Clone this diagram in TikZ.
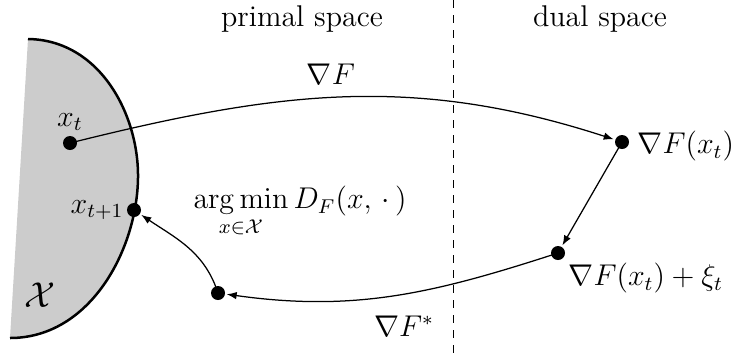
\documentclass[tikz,border=0pt]{standalone}
\usepackage{amsmath,amssymb}
\usetikzlibrary{arrows.meta}
\begin{document}
\begin{tikzpicture}[x=0.4pt,y=-0.4pt,
  pt/.style={circle,fill=black,inner sep=0pt,minimum size=5.6pt},
  conn/.style={line width=0.5pt,-{Latex[length=4pt,width=3pt]},shorten >=0.5pt},
  lbl/.style={inner sep=0pt}]
\useasboundingbox (0,0) rectangle (738,354);
% convex set
\fill[black!20] (28,39) .. controls (100,40) and (139,115) .. (138,178)
  .. controls (137,250) and (90,338) .. (10,338) -- cycle;
\draw[line width=1pt] (28,39) .. controls (100,40) and (139,115) .. (138,178)
  .. controls (137,250) and (90,338) .. (10,338);
\node[lbl] at (40,295) {\Large$\mathcal{X}$};
% dashed separator
\draw[dashed,line width=0.4pt] (453,0) -- (453,354);
\node[lbl] at (302,19) {\large primal space};
\node[lbl] at (600,19) {\large dual space};
% points
\node[pt] (xt) at (70,143) {};
\node[pt] (xt1) at (134,210) {};
\node[pt] (gx) at (622,142) {};
\node[pt] (gxi) at (558,253) {};
\node[pt] (back) at (218,293) {};
% labels
\node[lbl] at (70,122) {\large$x_t$};
\node[lbl,anchor=east] at (124,210) {\large$x_{t+1}$};
\node[lbl,anchor=west] at (637,146) {\large$\nabla F(x_t)$};
\node[lbl,anchor=west] at (568,278) {\large$\nabla F(x_t)+\xi_t$};
\node[lbl] at (300,212) {\large$\displaystyle\operatorname*{arg\,min}_{x\in\mathcal{X}} D_F(x,\,\cdot\,)$};
\node[lbl] at (331,74) {\large$\nabla F$};
\node[lbl] at (404,326) {\large$\nabla F^{*}$};
% connectors
\draw[conn] (xt.center) to[out=14,in=162] (gx);
\draw[conn] (gx.center) -- (gxi);
\draw[conn] (gxi.center) to[out=198,in=-8] (back);
\draw[conn] (back.center) to[out=108,in=-34] (xt1);
\end{tikzpicture}
\end{document}
